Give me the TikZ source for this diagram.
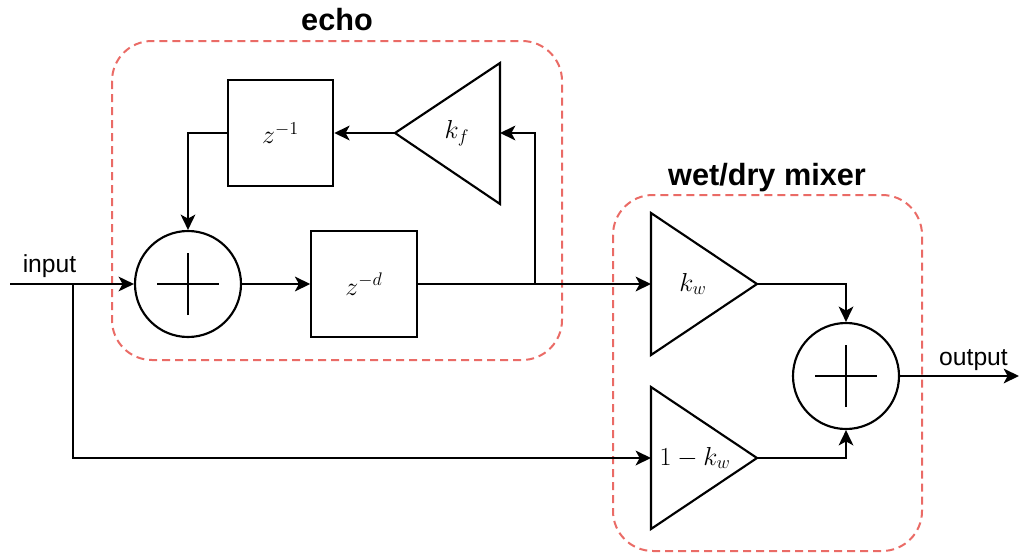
\documentclass[tikz,border=0pt]{standalone}
\usepackage{fix-cm}
\usepackage{fontspec}
\newfontfamily\arial{Liberation Sans}
\usetikzlibrary{arrows.meta}
\definecolor{dashred}{HTML}{EA6B66}
\begin{document}
\begin{tikzpicture}[x=0.75pt,y=-0.75pt, line width=1.6pt,
  arr/.style={-{Stealth[length=11.5pt,width=11pt,inset=3pt]}},
  grp/.style={draw=dashred, dash pattern=on 6pt off 3.75pt, line width=1.5pt, rounded corners=30pt},
  blk/.style={draw, minimum width=79pt, minimum height=79.5pt, inner sep=0pt},
  sumnode/.style={draw, circle, minimum size=79.5pt, inner sep=0pt},
  mth/.style={font=\fontsize{19.5}{23}\selectfont},
  lbl/.style={font=\arial\fontsize{18.5}{22}\selectfont, inner sep=0pt},
  ttl/.style={font=\arial\bfseries\fontsize{23}{28}\selectfont, inner sep=0pt}]
\useasboundingbox (0,0) rectangle (1020,553);

% group frames
\draw[grp] (112,41) rectangle (562,360);
\draw[grp] (613,195) rectangle (922,551);
\node[ttl, anchor=base] (echot) at (337,30) {echo};
\node[ttl, anchor=base] (wdt) at (767,185) {wet/dry mixer};

% adders
\node[sumnode] (s1) at (188,284) {};
\draw ([xshift=-23.25pt]s1.center) -- ([xshift=23.25pt]s1.center);
\draw ([yshift=-23.25pt]s1.center) -- ([yshift=23.25pt]s1.center);
\node[sumnode] (s2) at (846,376) {};
\draw ([xshift=-23.25pt]s2.center) -- ([xshift=23.25pt]s2.center);
\draw ([yshift=-23.25pt]s2.center) -- ([yshift=23.25pt]s2.center);

% delay blocks
\node[blk, mth] (zi) at (280.5,133) {$z^{-1}$};
\node[blk, mth] (zd) at (364,284) {$z^{-d}$};

% gains (triangles)
\draw (395,133) -- (500,63) -- (500,204) -- cycle;
\coordinate (kfin) at (500,133);
\coordinate (kfout) at (395,133);
\node[mth] (kf) at (457,133) {$k_f$};

\draw (651,213) -- (757,284) -- (651,355) -- cycle;
\coordinate (kwin) at (651,284);
\coordinate (kwout) at (757,284);
\node[mth] (kw) at (693,284) {$k_w$};

\draw (651,387) -- (757,458) -- (651,529) -- cycle;
\coordinate (dwin) at (651,458);
\coordinate (dwout) at (757,458);
\node[mth] (dw) at (695,458) {$1-k_w$};

% terminals
\coordinate (in) at (10,284);
\coordinate (br) at (73,284);
\coordinate (fb) at (535,284);
\coordinate (out) at (1019,376);
\node[lbl, anchor=base] (inl) at (49.5,272) {input};
\node[lbl, anchor=base] (outl) at (973.5,365) {output};

% connectors
\draw[arr] (in) -- (s1.west);
\draw[arr] (s1.east) -- (zd.west);
\draw[arr] (zd.east) -- (kwin);
\draw[arr] (fb) |- (kfin);
\draw[arr] (kfout) -- (zi.east);
\draw[arr] (zi.west) -| (s1.north);
\draw[arr] (br) |- (dwin);
\draw[arr] (kwout) -| (s2.north);
\draw[arr] (dwout) -| (s2.south);
\draw[arr] (s2.east) -- (out);
\end{tikzpicture}
\end{document}
